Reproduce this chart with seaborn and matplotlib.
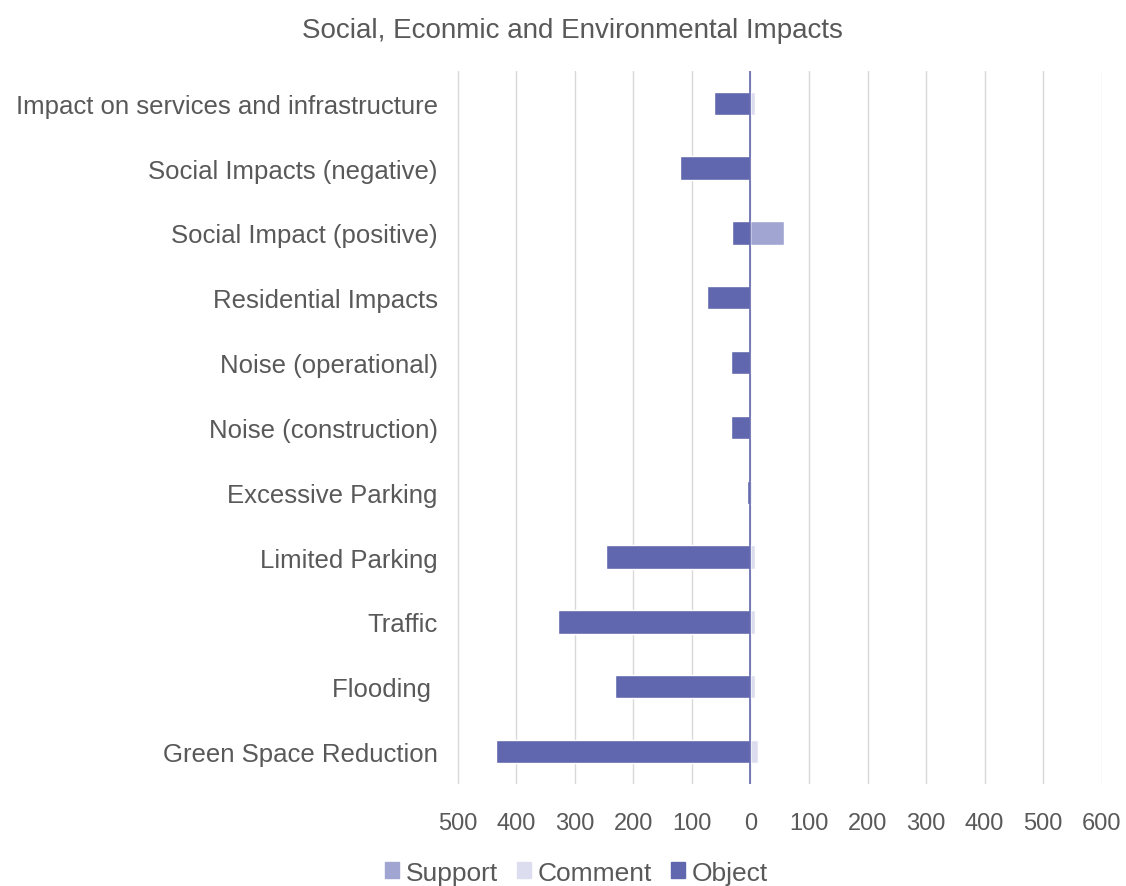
import matplotlib
matplotlib.use("Agg")
import matplotlib.pyplot as plt
from matplotlib.patches import Patch
from matplotlib.ticker import FuncFormatter
import seaborn as sns
import pandas as pd
import numpy as np

# --- Data ---
categories = [
    "Impact on services and infrastructure",
    "Social Impacts (negative)",
    "Social Impact (positive)",
    "Residential Impacts",
    "Noise (operational)",
    "Noise (construction)",
    "Excessive Parking",
    "Limited Parking",
    "Traffic",
    "Flooding ",
    "Green Space Reduction",
]
support = [0, 0, 57, 0, 0, 0, 0, 0, 0, 0, 0]
comment = [8, 0, 0, 0, 0, 0, 2, 7, 7, 8, 12]
objection = [63, 120, 32, 75, 34, 34, 6, 247, 329, 232, 434]

C_SUPPORT = "#a1a5d2"
C_COMMENT = "#dcdef0"
C_OBJECT = "#6167ae"
TXT = "#595959"

df = pd.DataFrame({
    "category": categories,
    "support": support,
    "comment": comment,
    "object": [-v for v in objection],
})
df["support_comment"] = df["support"] + df["comment"]

sns.set_style("white")
plt.rcParams["font.family"] = ["Liberation Sans", "DejaVu Sans"]

fig = plt.figure(figsize=(11.26, 8.87), dpi=100)
ax = fig.add_axes([0.406, 0.115, 0.573, 0.804])

bw = 0.36
sns.barplot(data=df, y="category", x="support_comment", color=C_COMMENT,
            width=bw, saturation=1, ax=ax, orient="h")
sns.barplot(data=df, y="category", x="support", color=C_SUPPORT,
            width=bw, saturation=1, ax=ax, orient="h")
sns.barplot(data=df, y="category", x="object", color=C_OBJECT,
            width=bw, saturation=1, ax=ax, orient="h")

ax.set_xlim(-501, 601)
ax.set_ylim(len(categories) - 0.5, -0.5)
ax.set_xticks(np.arange(-500, 601, 100))
ax.xaxis.set_major_formatter(FuncFormatter(lambda v, p: f"{abs(int(v))}"))
ax.grid(axis="x", color="#d9d9d9", linewidth=1)
ax.set_axisbelow(True)
ax.axvline(0, color=C_OBJECT, linewidth=1.2, zorder=5)
for s in ax.spines.values():
    s.set_visible(False)
ax.tick_params(axis="both", length=0, labelcolor=TXT)
ax.tick_params(axis="x", labelsize=17, pad=20)
ax.tick_params(axis="y", labelsize=18.5, pad=14)
ax.set_xlabel("")
ax.set_ylabel("")

fig.suptitle("Social, Econmic and Environmental Impacts", x=0.508, y=0.98,
             fontsize=20, color=TXT)

handles = [Patch(color=C_SUPPORT, label="Support"),
           Patch(color=C_COMMENT, label="Comment"),
           Patch(color=C_OBJECT, label="Object")]
fig.legend(handles=handles, loc="center", bbox_to_anchor=(0.512, 0.015), ncol=3,
           frameon=False, fontsize=19, labelcolor=TXT, handlelength=0.55,
           handleheight=0.55, handletextpad=0.25, columnspacing=0.7)

fig.savefig("out.png", dpi=100)
